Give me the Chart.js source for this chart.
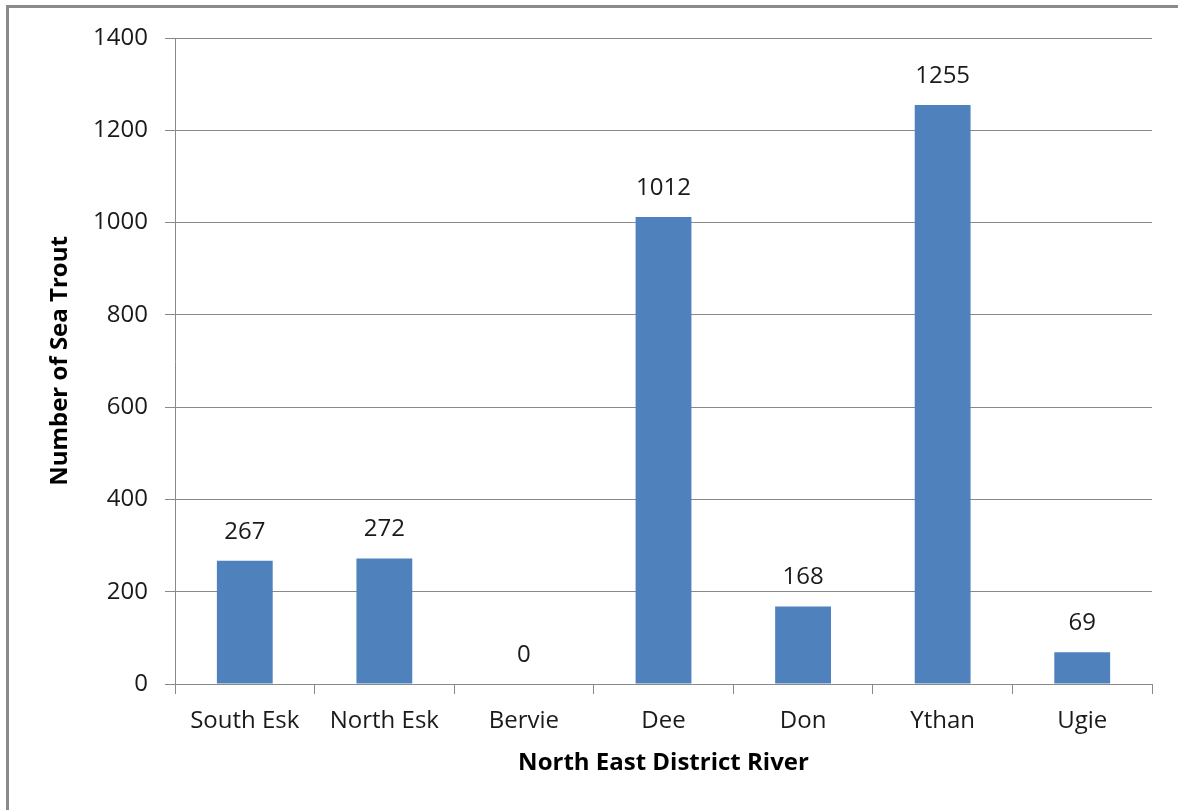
<!DOCTYPE html>
<html>
<head>
<meta charset="utf-8">
<script src="https://cdn.jsdelivr.net/npm/chart.js@4"></script>
<style>
    html, body { margin: 0; padding: 0; background: #fff; }
    #wrap {
        position: relative;
        width: 1178px;
        height: 810px;
        overflow: hidden;
    }
    #frame {
        position: absolute;
        left: 6px;
        top: 5px;
        width: 1200px;
        height: 900px;
        border-left: 3px solid #8a8a8a;
        border-top: 3px solid #8a8a8a;
        pointer-events: none;
    }
    canvas { position: absolute; left: 0; top: 0; }
</style>
</head>
<body>
<div id="wrap">
    <canvas id="troutChart" width="1178" height="810"></canvas>
    <div id="frame"></div>
</div>
<script>
// Sea trout counts per river
const rivers = ['South Esk', 'North Esk', 'Bervie', 'Dee', 'Don', 'Ythan', 'Ugie'];
const troutCounts = [267, 272, 0, 1012, 168, 1255, 69];
const yTicks = [0, 200, 400, 600, 800, 1000, 1200, 1400];

const FONT = "'Open Sans', 'DejaVu Sans', sans-serif";
const GRID = '#898989';

// Writes each count above its bar
const valueLabels = {
    id: 'valueLabels',
    afterDatasetsDraw(chart) {
        const ctx = chart.ctx;
        const meta = chart.getDatasetMeta(0);
        ctx.save();
        ctx.font = '24px ' + FONT;
        ctx.fillStyle = '#1a1a1a';
        ctx.textAlign = 'center';
        ctx.textBaseline = 'middle';
        meta.data.forEach((bar, i) => {
            ctx.fillText(String(troutCounts[i]), bar.x, bar.y - 29);
        });
        ctx.restore();
    }
};

const ctx = document.getElementById('troutChart').getContext('2d');
const troutChart = new Chart(ctx, {
    type: 'bar',
    data: {
        labels: rivers,
        datasets: [{
            data: troutCounts,
            backgroundColor: '#4f81bd',
            borderWidth: 0,
            barPercentage: 0.4,
            categoryPercentage: 1.0
        }]
    },
    options: {
        responsive: false,
        animation: false,
        devicePixelRatio: 1,
        layout: {
            padding: { left: 42, top: 38, right: 26, bottom: 0 }
        },
        plugins: {
            legend: { display: false },
            tooltip: { enabled: false }
        },
        scales: {
            x: {
                offset: true,
                grid: {
                    offset: true,
                    drawOnChartArea: false,
                    drawTicks: true,
                    tickLength: 10,
                    color: GRID,
                    lineWidth: 1
                },
                border: { color: GRID, width: 1 },
                ticks: {
                    color: '#1a1a1a',
                    font: { family: FONT, size: 24 },
                    padding: 13,
                    maxRotation: 0
                },
                title: {
                    display: true,
                    text: 'North East District River',
                    color: '#000',
                    font: { family: FONT, size: 24, weight: 'bold' },
                    padding: { top: 0, bottom: 32 }
                },
                afterFit(scale) { scale.height = 126; }
            },
            y: {
                min: 0,
                max: 1400,
                afterBuildTicks(scale) {
                    scale.ticks = yTicks.map(v => ({ value: v }));
                },
                grid: {
                    color: GRID,
                    lineWidth: 1,
                    tickLength: 10
                },
                border: { color: GRID, width: 1 },
                ticks: {
                    color: '#1a1a1a',
                    font: { family: FONT, size: 24 },
                    padding: 17,
                    callback: v => String(v)
                },
                title: {
                    display: true,
                    text: 'Number of Sea Trout',
                    color: '#000',
                    font: { family: FONT, size: 24, weight: 'bold' },
                    padding: { top: 4, bottom: 4 }
                },
                afterFit(scale) { scale.width = 133; }
            }
        }
    },
    plugins: [valueLabels]
});
</script>
</body>
</html>
